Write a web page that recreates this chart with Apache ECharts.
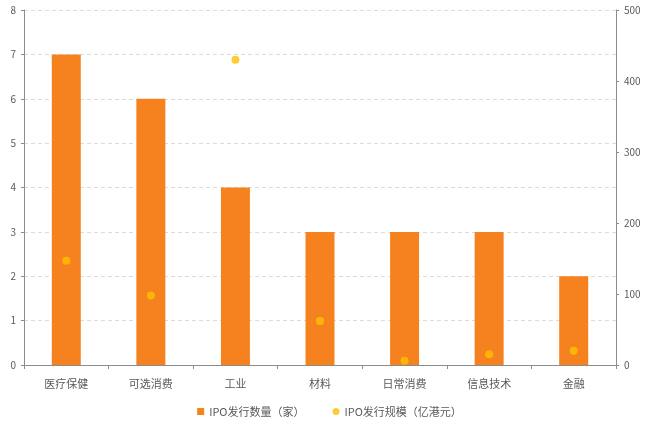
<!DOCTYPE html>
<html><head><meta charset="utf-8">
<script src="https://cdn.jsdelivr.net/npm/echarts@6/dist/echarts.min.js"></script>
<style>html,body{margin:0;padding:0;background:#fff}#c{width:659px;height:422px}</style>
</head><body><div id="c"></div>
<script>
const categories = ['医疗保健','可选消费','工业','材料','日常消费','信息技术','金融'];
const ipoCount = [7,6,4,3,3,3,2];
const ipoSize = [147,98,430,62,6,15,20];
const leftTicks = [0,1,2,3,4,5,6,7,8];
const rightTicks = [0,100,200,300,400,500];

const chart = echarts.init(document.getElementById('c'));
const font = '"Noto Sans CJK SC", "Noto Sans", sans-serif';
chart.setOption({
  animation:false,
  textStyle:{fontFamily:font},
  grid:{left:24,right:43,top:10,bottom:57,containLabel:false},
  legend:{
    bottom:0,left:'center',itemGap:28,itemWidth:7,itemHeight:7,
    textStyle:{color:'#595959',fontSize:11,fontFamily:font},
    data:[{name:'IPO发行数量（家）',icon:'rect'},{name:'IPO发行规模（亿港元）',icon:'circle'}]
  },
  xAxis:{type:'category',data:categories,
    axisLine:{lineStyle:{color:'#8c8c8c'}},
    axisTick:{show:true,alignWithLabel:false,length:4,lineStyle:{color:'#8c8c8c'}},
    axisLabel:{color:'#595959',fontSize:11,margin:13}},
  yAxis:[
    {type:'value',min:leftTicks[0],max:leftTicks[leftTicks.length-1],interval:1,
     axisLine:{show:true,lineStyle:{color:'#8c8c8c'}},
     axisTick:{show:true,length:3,lineStyle:{color:'#8c8c8c'}},
     axisLabel:{color:'#595959',fontSize:10,margin:8},
     splitLine:{show:true,lineStyle:{color:'#dcdcdc',type:[4,3]}}},
    {type:'value',min:rightTicks[0],max:rightTicks[rightTicks.length-1],interval:100,position:'right',
     axisLine:{show:true,lineStyle:{color:'#8c8c8c'}},
     axisTick:{show:true,length:3,lineStyle:{color:'#8c8c8c'}},
     axisLabel:{color:'#595959',fontSize:10,margin:8},
     splitLine:{show:false}}
  ],
  series:[
    {name:'IPO发行数量（家）',type:'bar',data:ipoCount,barWidth:29,itemStyle:{color:'#F5821F'},yAxisIndex:0},
    {name:'IPO发行规模（亿港元）',type:'scatter',data:ipoSize,yAxisIndex:1,symbolSize:8,itemStyle:{color:'#FFC000'}}
  ]
});
</script></body></html>
